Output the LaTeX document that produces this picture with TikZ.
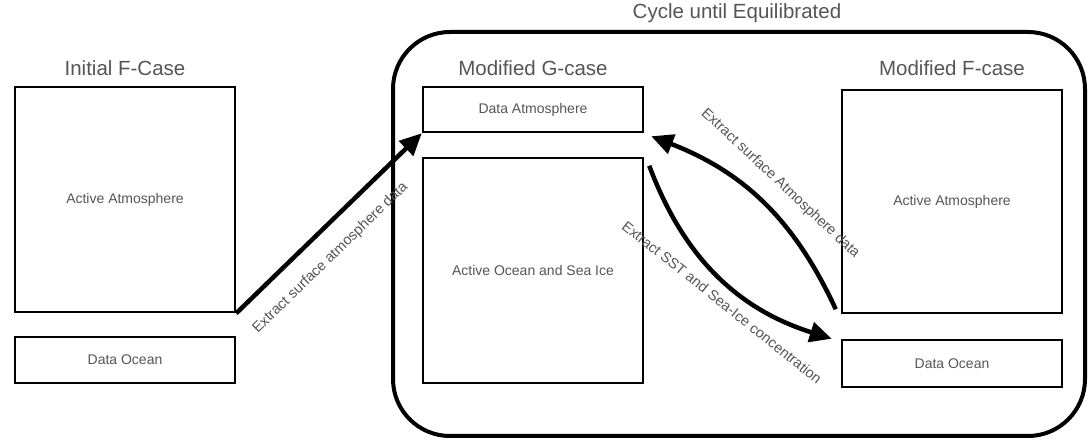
\documentclass[tikz,border=0pt]{standalone}
\usepackage{fontspec}
\setmainfont{Liberation Sans}
\usetikzlibrary{arrows.meta,positioning}
\definecolor{labelgray}{HTML}{555555}

\begin{document}
\begin{tikzpicture}[x=1pt,y=-1pt,
  model/.style={draw, line width=2.5pt, minimum width=220pt, inner sep=0pt, text=labelgray, font=\fontsize{14}{16}\selectfont},
  casetitle/.style={inner sep=0pt, text=labelgray, font=\fontsize{20.5}{24}\selectfont},
  flow/.style={line width=4.5pt, -{Triangle[length=22pt,width=20pt]}},
  flowlabel/.style={sloped, inner sep=0pt, text=labelgray, font=\fontsize{14.5}{16}\selectfont}]

\useasboundingbox (0,0) rectangle (1090,443);

\node[draw, line width=4pt, rounded corners=57pt, minimum width=692pt, minimum height=404pt] (cycle) at (739,234) {};
\node[casetitle] (cycletitle) at (737,13) {Cycle until Equilibrated};

% initial F-case
\node[model, minimum height=225pt] (iatm) at (125,199.5) {Active Atmosphere};
\node[model, minimum height=46pt] (iocn) at (125,360) {Data Ocean};
\node[casetitle, above=10pt of iatm] (ititle) {Initial F-Case};

% modified G-case
\node[model, minimum height=45pt] (gatm) at (533,109.5) {Data Atmosphere};
\node[model, minimum height=225pt] (gocn) at (533,270.5) {Active Ocean and Sea Ice};
\node[casetitle, above=10pt of gatm] (gtitle) {Modified G-case};

% modified F-case
\node[model, minimum height=223pt] (fatm) at (952,201.5) {Active Atmosphere};
\node[model, minimum height=47pt] (focn) at (952,363.5) {Data Ocean};
\node[casetitle, above=13pt of fatm] (ftitle) {Modified F-case};

\draw[flow] (iatm.south east) -- (gatm.south west)
  node[flowlabel, below=17pt, pos=0.41] {Extract surface atmosphere data};

\draw[flow] ([shift={(-5,-5)}]fatm.south west) to[bend right=22]
  node[flowlabel, above=17pt] {Extract surface Atmosphere data} ([shift={(7,3)}]gatm.south east);

\draw[flow] ([shift={(5,9)}]gocn.north east) to[bend right=26]
  node[flowlabel, below=10pt, pos=0.58] {Extract SST and Sea-Ice concentration} ([shift={(-9,0)}]focn.north west);

\end{tikzpicture}
\end{document}
